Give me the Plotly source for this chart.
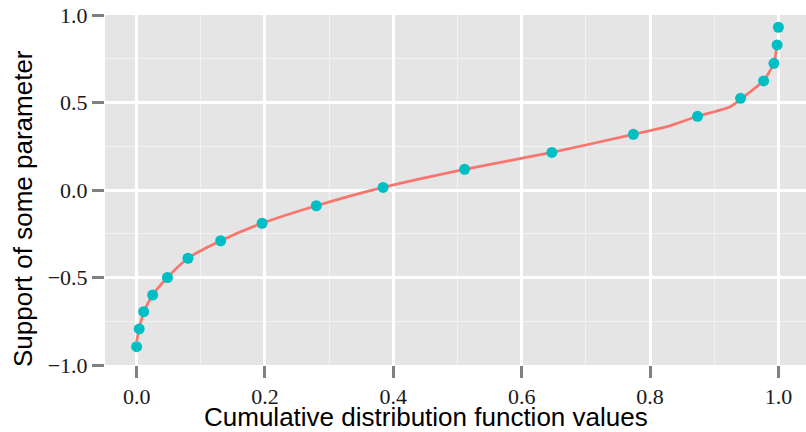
import plotly.graph_objects as go

# Points (cumulative distribution value, support value)
point_x = [0.0, 0.004, 0.011, 0.025, 0.048, 0.080, 0.131, 0.1955, 0.280, 0.384,
           0.511, 0.647, 0.774, 0.874, 0.941, 0.977, 0.993, 0.998, 1.0]
point_y = [-0.895, -0.794, -0.695, -0.60, -0.50, -0.39, -0.29, -0.19, -0.09, 0.015,
           0.118, 0.215, 0.318, 0.421, 0.524, 0.623, 0.724, 0.829, 0.93]

# Smoothed curve
curve_x = [0.0, 0.004, 0.011, 0.025, 0.048, 0.080, 0.131, 0.1955, 0.280, 0.384,
           0.511, 0.647, 0.774, 0.826, 0.874, 0.925, 0.945, 0.977, 0.993, 0.997]
curve_y = [-0.865, -0.79, -0.70, -0.60, -0.50, -0.39, -0.29, -0.19, -0.09, 0.015,
           0.118, 0.215, 0.318, 0.362, 0.421, 0.476, 0.53, 0.625, 0.725, 0.81]

x_ticks = [0.0, 0.2, 0.4, 0.6, 0.8, 1.0]
x_tick_labels = ["0.0", "0.2", "0.4", "0.6", "0.8", "1.0"]
y_ticks = [-1.0, -0.5, 0.0, 0.5, 1.0]
y_tick_labels = ["\u22121.0", "\u22120.5", "0.0", "0.5", "1.0"]

x_title = "Cumulative distribution function values"
y_title = "Support of some parameter"

W, H = 806, 432
L, R, T, B = 105, 0, 15, 67

fig = go.Figure()
fig.add_trace(go.Scatter(x=curve_x, y=curve_y, mode="lines",
                         line=dict(color="#F8766D", width=2.7, shape="spline", smoothing=0.6),
                         hoverinfo="skip", showlegend=False))
fig.add_trace(go.Scatter(x=point_x, y=point_y, mode="markers",
                         marker=dict(color="#00BFC4", size=11, line=dict(width=0)),
                         showlegend=False))

tickfont = dict(family="Liberation Serif, Times New Roman, Times, serif", size=22, color="#1a1a1a")
fig.update_xaxes(range=[-0.0493, 1.043], tickvals=x_ticks, ticktext=x_tick_labels,
                 showgrid=True, gridcolor="#FFFFFF", gridwidth=2.5,
                 minor=dict(dtick=0.1, tick0=0.1, showgrid=True, gridcolor="#F2F2F2", gridwidth=1.2, ticks=""),
                 ticks="outside", ticklen=12, tickwidth=2.5, tickcolor="#808080",
                 tickfont=tickfont, zeroline=False, showline=False, automargin=False)
fig.update_yaxes(range=[-1.0, 1.0], tickvals=y_ticks, ticktext=y_tick_labels,
                 showgrid=True, gridcolor="#FFFFFF", gridwidth=2.5,
                 minor=dict(dtick=0.25, tick0=0.25, showgrid=True, gridcolor="#F2F2F2", gridwidth=1.2, ticks=""),
                 ticks="outside", ticklen=12, tickwidth=2.5, tickcolor="#808080",
                 tickfont=tickfont, zeroline=False, showline=False, automargin=False)

pw, ph = W - L - R, H - T - B
fig.add_annotation(text=x_title, xref="paper", yref="paper",
                   x=(426 - L) / pw, y=(H - B - 417) / ph, xanchor="center", yanchor="middle",
                   height=24, valign="middle",
                   showarrow=False, font=dict(family="Liberation Sans, Arial, sans-serif", size=26, color="#000000"))
fig.add_annotation(text=y_title, xref="paper", yref="paper", textangle=-90,
                   x=(23 - L) / pw, y=(H - B - 209) / ph, xanchor="center", yanchor="middle",
                   showarrow=False, font=dict(family="Liberation Sans, Arial, sans-serif", size=26, color="#000000"))

fig.update_layout(width=W, height=H, margin=dict(l=L, r=R, t=T, b=B, pad=0, autoexpand=False),
                  plot_bgcolor="#E5E5E5", paper_bgcolor="#FFFFFF", showlegend=False)

fig.write_html("out.html", config={"displayModeBar": False},
               post_script="document.body.style.margin='0';document.body.style.overflow='hidden';")
